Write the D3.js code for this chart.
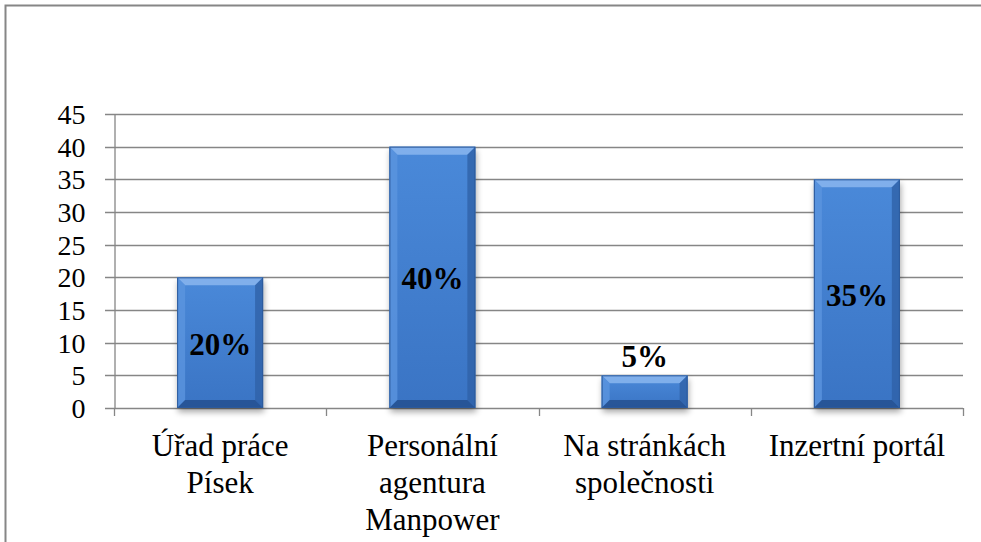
<!DOCTYPE html>
<html>
<head>
<meta charset="utf-8">
<script src="https://cdn.jsdelivr.net/npm/d3@7"></script>
<style>
  body { margin: 0; background: #fff; }
</style>
</head>
<body>
<div id="chart"></div>
<script>
// chart data
var categories = [["Úřad práce", "Písek"], ["Personální", "agentura", "Manpower"], ["Na stránkách", "společnosti"], ["Inzertní portál"]];
var values = [20, 40, 5, 35];
var valueLabels = ["20%", "40%", "5%", "35%"];
var yTicks = [0, 5, 10, 15, 20, 25, 30, 35, 40, 45];

var width = 981, height = 542;
var margin = { left: 114, right: 18, top: 114, bottom: 134 };
var serif = "Liberation Serif";

var svg = d3.select("#chart").append("svg")
    .attr("width", width)
    .attr("height", height);

var defs = svg.append("defs");
var grad = defs.append("linearGradient").attr("id", "barGrad")
    .attr("x1", 0).attr("y1", 0).attr("x2", 0).attr("y2", 1);
grad.append("stop").attr("offset", "0%").attr("stop-color", "#4a89d9");
grad.append("stop").attr("offset", "100%").attr("stop-color", "#3a74c4");
var blur = defs.append("filter").attr("id", "shadow").attr("x", "-20%").attr("y", "-20%").attr("width", "140%").attr("height", "140%");
blur.append("feGaussianBlur").attr("stdDeviation", 3);

// outer frame
svg.append("path")
    .attr("d", "M5.5," + height + "V5.5H" + width)
    .attr("fill", "none")
    .attr("stroke", "#868686")
    .attr("stroke-width", 2);

var x = d3.scaleBand()
    .domain(d3.range(values.length))
    .range([margin.left, width - margin.right])
    .padding(0);

var y = d3.scaleLinear()
    .domain([0, 45])
    .range([height - margin.bottom, margin.top]);

// gridlines
svg.append("g")
    .selectAll("line")
    .data(yTicks)
    .join("line")
    .attr("x1", margin.left - 9)
    .attr("x2", width - margin.right)
    .attr("y1", function (d) { return Math.round(y(d)) + 0.5; })
    .attr("y2", function (d) { return Math.round(y(d)) + 0.5; })
    .attr("stroke", "#868686")
    .attr("stroke-width", 1.3);

// y axis
var yAxis = svg.append("g")
    .attr("transform", "translate(" + (margin.left + 0.5) + ",0)")
    .call(d3.axisLeft(y).tickValues(yTicks).tickSize(0).tickPadding(29));
yAxis.attr("font-family", serif);
yAxis.select(".domain").attr("stroke", "#868686").attr("stroke-width", 1.3);
yAxis.selectAll("text")
    .attr("font-family", serif)
    .attr("font-size", 28)
    .attr("fill", "#000")
    .attr("dy", "0.34em");

// x axis ticks
var xTickPos = d3.range(values.length + 1).map(function (i) {
    return i < values.length ? x(i) : x(values.length - 1) + x.bandwidth();
});
svg.append("g")
    .selectAll("line")
    .data(xTickPos)
    .join("line")
    .attr("x1", function (d) { return Math.round(d) + 0.5; })
    .attr("x2", function (d) { return Math.round(d) + 0.5; })
    .attr("y1", y(0))
    .attr("y2", y(0) + 8)
    .attr("stroke", "#868686")
    .attr("stroke-width", 1.3);

// bars
var barW = x.bandwidth() * 0.405;
var bars = svg.append("g")
    .selectAll("g")
    .data(values)
    .join("g")
    .attr("transform", function (d, i) {
        return "translate(" + (x(i) + (x.bandwidth() - barW) / 2) + "," + y(d) + ")";
    });

bars.append("rect")
    .attr("x", 1)
    .attr("y", 4)
    .attr("width", barW)
    .attr("height", function (d) { return y(0) - y(d); })
    .attr("fill", "#000")
    .attr("opacity", 0.35)
    .attr("filter", "url(#shadow)");

bars.append("rect")
    .attr("width", barW)
    .attr("height", function (d) { return y(0) - y(d); })
    .attr("fill", "url(#barGrad)");

// bevel edges
var bev = 8;
function bevel(d, side) {
    var h = y(0) - y(d), b = Math.min(bev, h / 2);
    if (side === "top") return "M0,0H" + barW + "L" + (barW - b) + "," + b + "H" + b + "Z";
    if (side === "left") return "M0,0L" + b + "," + b + "V" + (h - b) + "L0," + h + "Z";
    if (side === "right") return "M" + barW + ",0L" + (barW - b) + "," + b + "V" + (h - b) + "L" + barW + "," + h + "Z";
    return "M0," + h + "L" + b + "," + (h - b) + "H" + (barW - b) + "L" + barW + "," + h + "Z";
}
bars.append("path").attr("d", function (d) { return bevel(d, "top"); }).attr("fill", "#8ab6ee").attr("opacity", 0.85);
bars.append("path").attr("d", function (d) { return bevel(d, "left"); }).attr("fill", "#5b95df").attr("opacity", 0.8);
bars.append("path").attr("d", function (d) { return bevel(d, "right"); }).attr("fill", "#2f62a8").attr("opacity", 0.8);
bars.append("path").attr("d", function (d) { return bevel(d, "bottom"); }).attr("fill", "#24508f").attr("opacity", 0.85);
bars.append("rect")
    .attr("x", 0.5).attr("y", 0.5)
    .attr("width", barW - 1)
    .attr("height", function (d) { return y(0) - y(d) - 1; })
    .attr("fill", "none")
    .attr("stroke", "#2c5a9c")
    .attr("stroke-width", 1);

// value labels
svg.append("g")
    .selectAll("text")
    .data(values)
    .join("text")
    .attr("x", function (d, i) { return x(i) + x.bandwidth() / 2; })
    .attr("y", function (d) {
        var h = y(0) - y(d);
        return h < 40 ? y(d) - 8 : y(d) + h / 2 + 12;
    })
    .attr("text-anchor", "middle")
    .attr("font-family", serif)
    .attr("font-weight", "bold")
    .attr("font-size", 31)
    .attr("fill", "#000")
    .text(function (d, i) { return valueLabels[i]; });

// category labels
var cat = svg.append("g")
    .selectAll("text")
    .data(categories)
    .join("text")
    .attr("x", function (d, i) { return x(i) + x.bandwidth() / 2; })
    .attr("y", y(0) + 48)
    .attr("text-anchor", "middle")
    .attr("font-family", serif)
    .attr("font-size", 31)
    .attr("fill", "#000");
cat.selectAll("tspan")
    .data(function (d) { return d; })
    .join("tspan")
    .attr("x", function () { return d3.select(this.parentNode).attr("x"); })
    .attr("dy", function (d, i) { return i === 0 ? 0 : 37; })
    .text(function (d) { return d; });
</script>
</body>
</html>
